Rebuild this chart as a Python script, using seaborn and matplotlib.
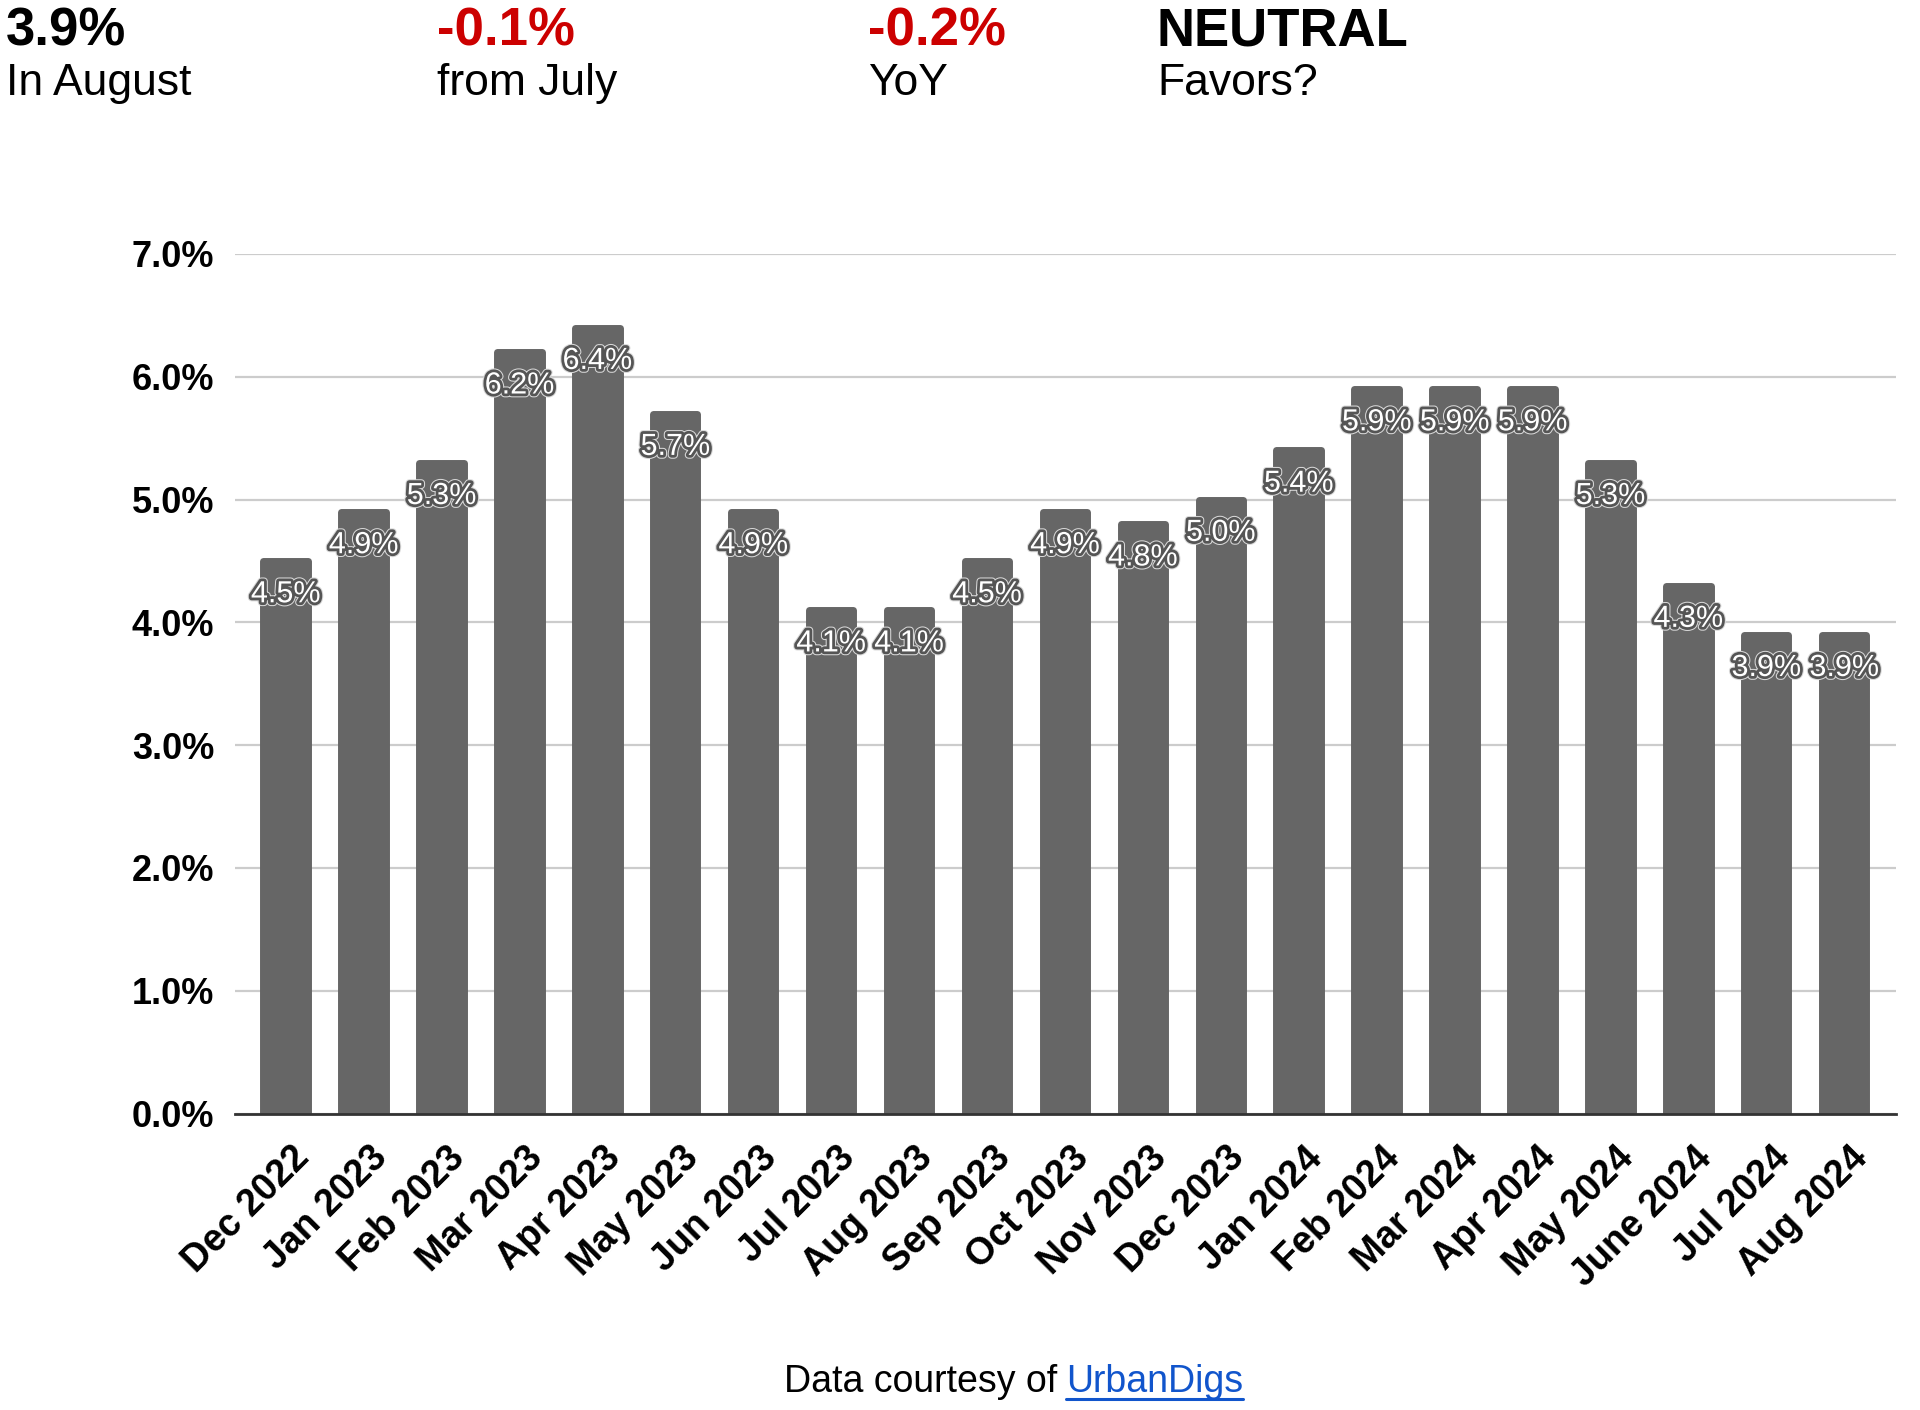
import matplotlib
matplotlib.use("Agg")
import matplotlib.pyplot as plt
import matplotlib.patheffects as pe
from matplotlib.lines import Line2D
from matplotlib.transforms import ScaledTranslation
import seaborn as sns

MONTHS = ["Dec 2022", "Jan 2023", "Feb 2023", "Mar 2023", "Apr 2023", "May 2023",
          "Jun 2023", "Jul 2023", "Aug 2023", "Sep 2023", "Oct 2023", "Nov 2023",
          "Dec 2023", "Jan 2024", "Feb 2024", "Mar 2024", "Apr 2024", "May 2024",
          "June 2024", "Jul 2024", "Aug 2024"]
RATES = [4.5, 4.9, 5.3, 6.2, 6.4, 5.7, 4.9, 4.1, 4.1, 4.5, 4.9, 4.8, 5.0,
         5.4, 5.9, 5.9, 5.9, 5.3, 4.3, 3.9, 3.9]
Y_TICKS = [0, 1, 2, 3, 4, 5, 6, 7]

HEADLINES = ["3.9%", "-0.1%", "-0.2%", "NEUTRAL"]
SUBLINES = ["In August", "from July", "YoY", "Favors?"]
HEAD_COLORS = ["#000000", "#cc0000", "#cc0000", "#000000"]

BAR, GRID, LINK = "#666666", "#cccccc", "#1155cc"

sns.set_style("white")
plt.rcParams["font.family"] = ["Liberation Sans", "DejaVu Sans"]

fig = plt.figure(figsize=(19.2, 14.1), dpi=100)
ax = fig.add_axes([0.1224, 0.2102, 0.9877 - 0.1224, 0.8199 - 0.2102])

sns.barplot(x=MONTHS, y=RATES, color=BAR, saturation=1, width=0.57, ax=ax, zorder=3)
# rounded top corners: thick edge in the same colour with round joins
for patch in ax.patches:
    patch.set_edgecolor(BAR)
    patch.set_linewidth(5)
    patch.set_joinstyle("round")

ax.set_xlim(-0.65, len(MONTHS) - 1 + 0.67)
ax.set_ylim(0, 7)
ax.set_yticks(Y_TICKS)
ax.yaxis.set_major_formatter(lambda y, p: f"{y:.1f}%")
ax.grid(axis="y", color=GRID, linewidth=1.6, zorder=0)
ax.set_axisbelow(True)
for side in ["top", "right", "left"]:
    ax.spines[side].set_visible(False)
ax.spines["bottom"].set_color("#333333")
ax.spines["bottom"].set_linewidth(2)
ax.spines["bottom"].set_zorder(4)
ax.tick_params(axis="y", length=0, pad=15, labelsize=26, labelcolor="black")
ax.tick_params(axis="x", length=0, pad=28, labelsize=27, labelcolor="black")
for lbl in ax.get_yticklabels():
    lbl.set_fontweight("bold")

ax.set_xticks(range(len(MONTHS)))
ax.set_xticklabels(MONTHS, rotation=45, ha="right", va="center",
                   rotation_mode="anchor", fontweight="bold")
shift = ScaledTranslation(0.18, 0, fig.dpi_scale_trans)
for lbl in ax.get_xticklabels():
    lbl.set_transform(lbl.get_transform() + shift)

# value labels: white text with a dark outline and thin light halo
for i, v in enumerate(RATES):
    ax.annotate(f"{v:.1f}%", xy=(i, v), xytext=(0, -24), textcoords="offset points",
                ha="center", va="center", fontsize=22, color="white", zorder=5,
                path_effects=[pe.Stroke(linewidth=5.5, foreground="#d8d8d8"),
                              pe.Stroke(linewidth=4, foreground="#555555"),
                              pe.Normal()])

ax.set_xlabel("")
ax.set_ylabel("")

# header row
head_x = [6, 437, 868, 1157]
for x, head, sub, col in zip(head_x, HEADLINES, SUBLINES, HEAD_COLORS):
    fig.text(x / 1920, 1 - 46 / 1410, head, fontsize=38, fontweight="bold",
             color=col, va="baseline", ha="left")
    fig.text(x / 1920, 1 - 95 / 1410, sub, fontsize=32, color="black",
             va="baseline", ha="left")

# footer
base = 1 - 1392 / 1410
t1 = fig.text(784 / 1920, base, "Data courtesy of", fontsize=27,
              color="black", va="baseline", ha="left")
fig.canvas.draw()
bb = t1.get_window_extent()
t2 = fig.text((bb.x1 + 9) / 1920, base, "UrbanDigs", fontsize=27,
              color=LINK, va="baseline", ha="left")
fig.canvas.draw()
bb2 = t2.get_window_extent()
uy = base - 7 / 1410
fig.add_artist(Line2D([bb2.x0 / 1920, bb2.x1 / 1920], [uy, uy], color=LINK,
                      linewidth=2.2, transform=fig.transFigure))

plt.savefig("out.png", dpi=100)
plt.close()
